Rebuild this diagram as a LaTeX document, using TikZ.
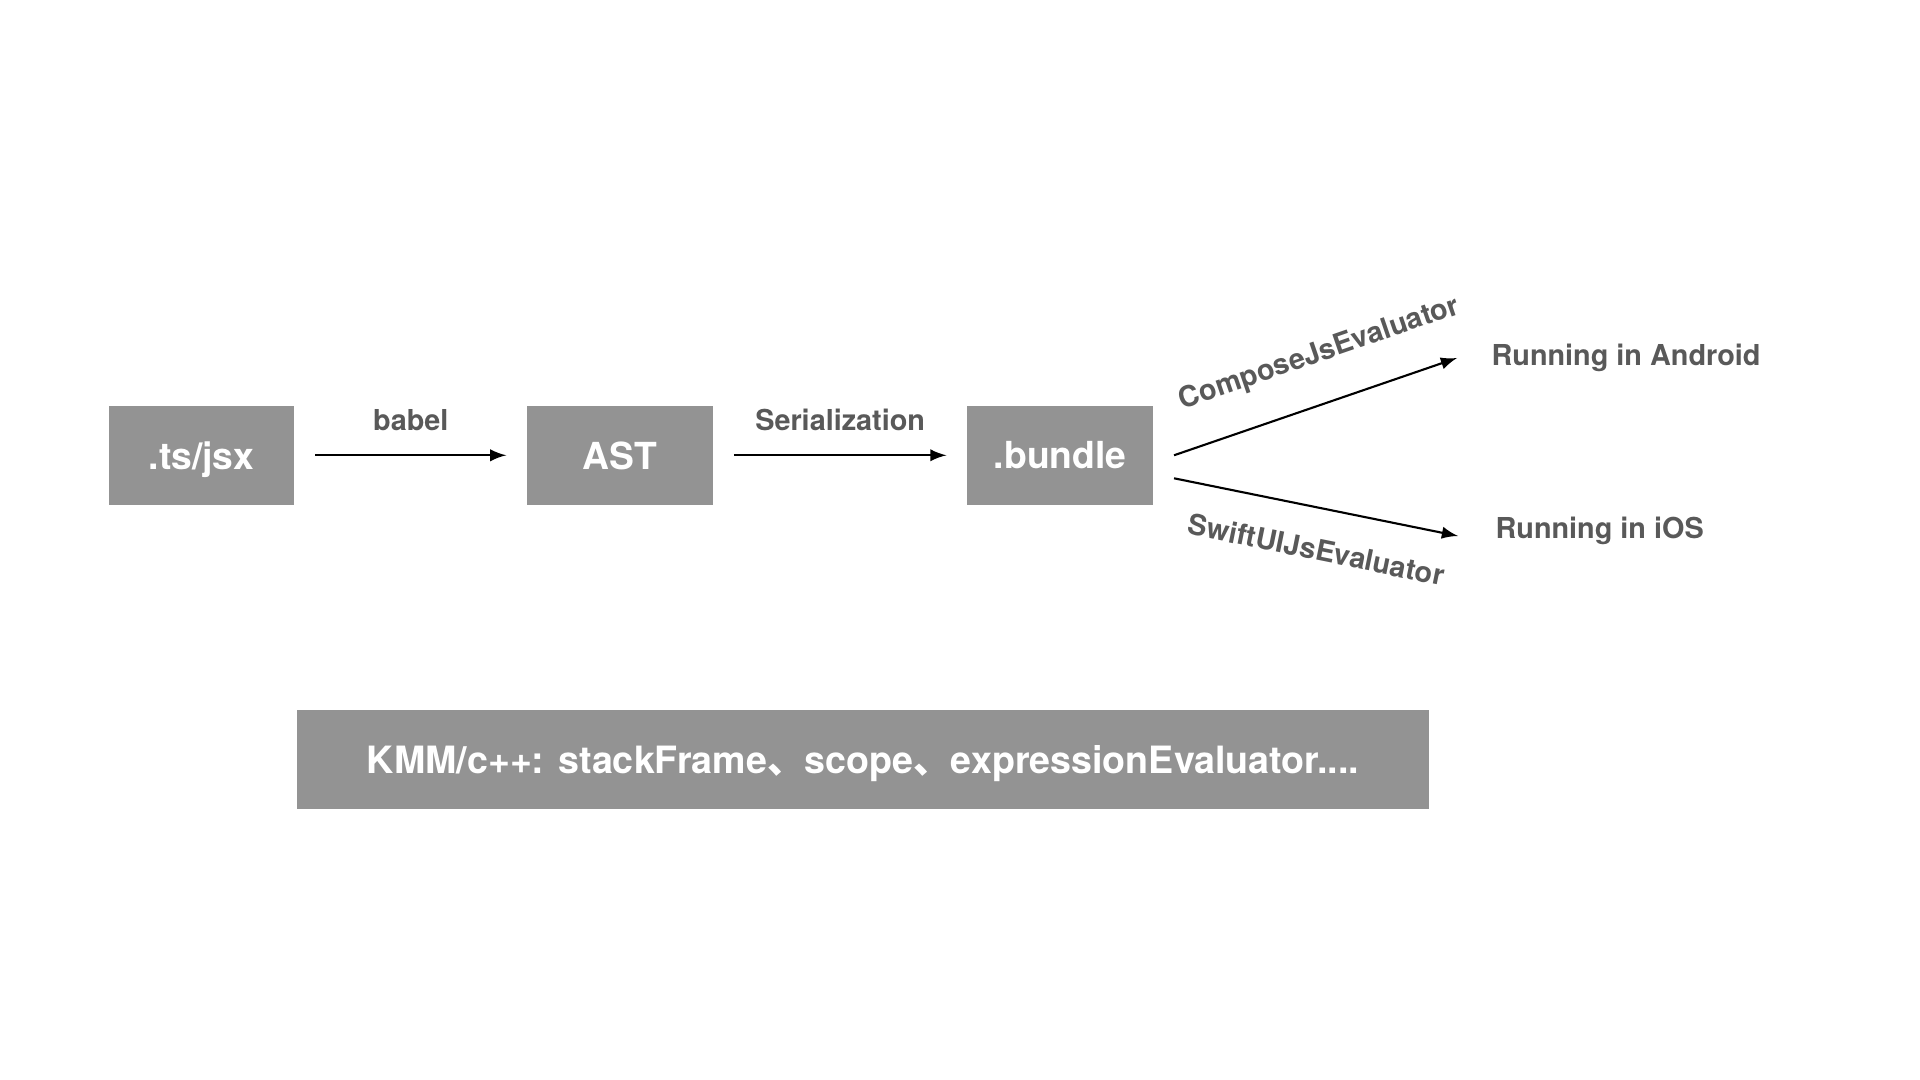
\documentclass[tikz,border=0pt]{standalone}
\usepackage{fontspec}
\setmainfont{TeX Gyre Heros}
\newfontfamily\cjk{Noto Sans CJK SC}
\usepackage{tikz}
\usetikzlibrary{arrows,positioning}
\definecolor{boxgray}{RGB}{147,147,147}
\definecolor{labelgray}{RGB}{89,89,89}

\begin{document}
\begin{tikzpicture}[
        >=latex,
        every path/.style={semithick},
        stage/.style={fill=boxgray, text=white, inner sep=0pt, text depth=0pt, minimum width=1.855cm, minimum height=.99cm, font=\fontsize{10.6}{12}\selectfont\bfseries},
        label/.style={text=labelgray, inner sep=1pt, font=\fontsize{8.2}{10}\selectfont\bfseries}
    ]
    \useasboundingbox (0,0) rectangle (19.2,10.8);

    % Nodes
    \node[stage] (tsjsx) at (2.015,6.247) {.ts/jsx};
    \node[stage, right=2.31cm of tsjsx] (ast) {AST};
    \node[stage, right=2.525cm of ast] (bundle) {.bundle};

    \node[label, anchor=west] (android) at (14.87,7.22) {Running in Android};
    \node[label, anchor=west] (ios) at (14.91,5.49) {Running in iOS};

    \node[stage, minimum width=11.32cm, font=\fontsize{10.7}{12}\selectfont\bfseries] (kmm) at (8.63,3.204) {KMM/c++: stackFrame{\cjk 、}scope{\cjk 、}expressionEvaluator....};

    % Edges
    \draw[->] ([xshift=.2cm]tsjsx.east) -- node[label, above=.2cm] (babel) {babel} ([xshift=-.2cm]ast.west);
    \draw[->] ([xshift=.2cm]ast.east) -- node[label, above=.2cm] (serial) {Serialization} ([xshift=-.2cm]bundle.west);
    \draw[->] ([xshift=.2cm]bundle.east) -- node[label, sloped, above=.3cm, pos=.57] (compose) {ComposeJsEvaluator} ([xshift=-.3cm]android.west);
    \draw[->] ([shift={(.2,-.23)}]bundle.east) -- node[label, sloped, below=.26cm, pos=.53] (swiftui) {SwiftUIJsEvaluator} ([shift={(-.33,-.05)}]ios.west);

\end{tikzpicture}
\end{document}
